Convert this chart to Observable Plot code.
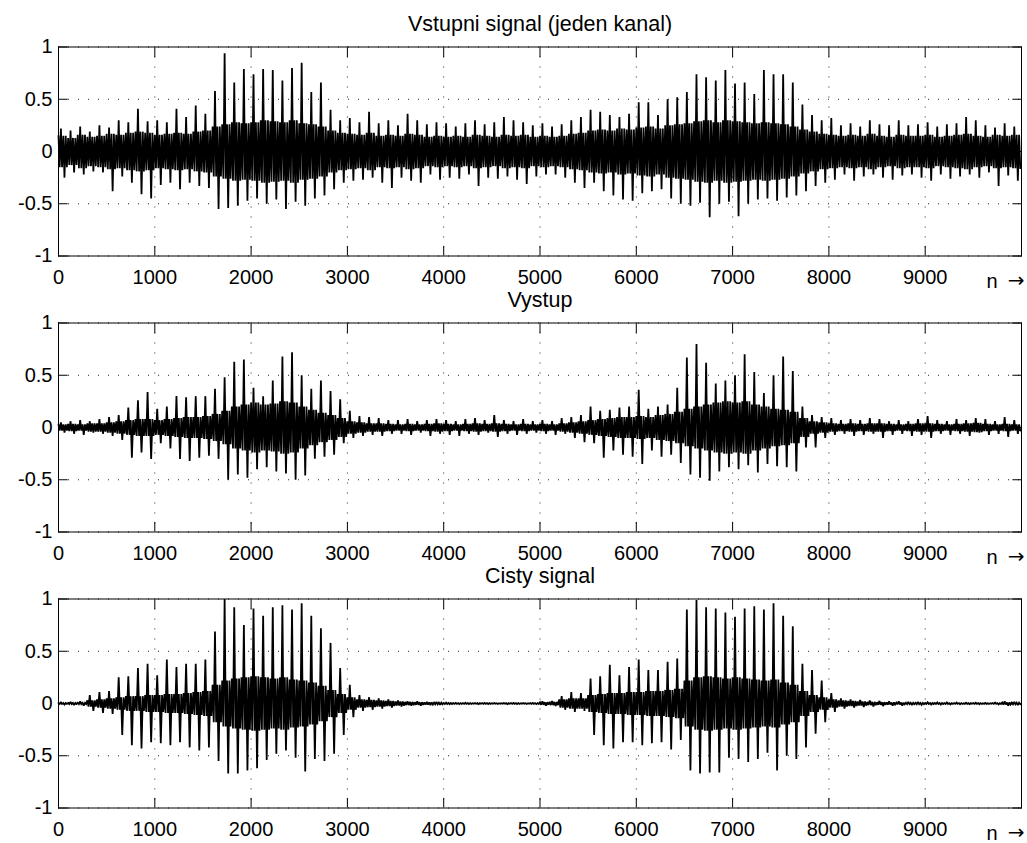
<!DOCTYPE html>
<html>
<head>
<meta charset="utf-8">
<script src="https://cdn.jsdelivr.net/npm/d3@7"></script>
<script src="https://cdn.jsdelivr.net/npm/@observablehq/plot@0.6"></script>
<style>
  html, body { margin: 0; padding: 0; background: #fff; overflow: hidden; }
  #wrap { position: relative; width: 1027px; height: 843px; font-family: "Liberation Sans", Arial, Helvetica, sans-serif; }
  #wrap svg { position: absolute; left: 0; }
</style>
</head>
<body>
<div id="wrap"></div>
<script>
// ---------- tick labels / categories ----------
const titles = ["Vstupni signal (jeden kanal)", "Vystup", "Cisty signal"];
const xLabelN = "n";
const xLabelArrow = "\u2192";
const xTicks = [0, 1000, 2000, 3000, 4000, 5000, 6000, 7000, 8000, 9000];
const yTicks = [-1, -0.5, 0, 0.5, 1];
const binSize = 100;      // samples per envelope bin

// ---------- panel 1: Vstupni signal (per-100-sample peak / trough / dense-band half-width) ----------
const inputHi = [
  0.22, 0.2, 0.24, 0.19, 0.25, 0.23, 0.3, 0.28, 0.41, 0.29,
  0.3, 0.28, 0.41, 0.33, 0.44, 0.36, 0.58, 0.94, 0.66, 0.79,
  0.74, 0.79, 0.78, 0.68, 0.8, 0.85, 0.57, 0.66, 0.4, 0.3,
  0.32, 0.28, 0.38, 0.27, 0.3, 0.25, 0.36, 0.3, 0.26, 0.28,
  0.27, 0.24, 0.27, 0.3, 0.26, 0.28, 0.33, 0.3, 0.28, 0.25,
  0.27, 0.24, 0.26, 0.3, 0.33, 0.4, 0.38, 0.35, 0.33, 0.36,
  0.47, 0.47, 0.35, 0.5, 0.52, 0.57, 0.74, 0.71, 0.68, 0.78,
  0.65, 0.66, 0.55, 0.78, 0.74, 0.74, 0.66, 0.45, 0.35, 0.3,
  0.32, 0.25, 0.27, 0.24, 0.3, 0.26, 0.25, 0.3, 0.25, 0.26,
  0.28, 0.24, 0.26, 0.27, 0.33, 0.3, 0.25, 0.23, 0.27, 0.24
];
const inputLo = [
  -0.25, -0.2, -0.22, -0.19, -0.2, -0.38, -0.24, -0.3, -0.41, -0.45,
  -0.32, -0.3, -0.36, -0.3, -0.33, -0.35, -0.55, -0.54, -0.52, -0.47,
  -0.45, -0.5, -0.46, -0.55, -0.48, -0.52, -0.45, -0.42, -0.36, -0.3,
  -0.28, -0.27, -0.25, -0.3, -0.35, -0.25, -0.28, -0.3, -0.22, -0.27,
  -0.25, -0.26, -0.22, -0.33, -0.25, -0.26, -0.24, -0.27, -0.31, -0.24,
  -0.22, -0.22, -0.25, -0.3, -0.35, -0.3, -0.38, -0.42, -0.46, -0.47,
  -0.4, -0.38, -0.36, -0.45, -0.5, -0.52, -0.49, -0.63, -0.5, -0.48,
  -0.62, -0.5, -0.46, -0.45, -0.47, -0.44, -0.42, -0.38, -0.33, -0.3,
  -0.27, -0.22, -0.28, -0.24, -0.22, -0.25, -0.27, -0.23, -0.22, -0.25,
  -0.28, -0.22, -0.26, -0.24, -0.22, -0.25, -0.2, -0.33, -0.23, -0.28
];
const inputCore = [
  0.15, 0.13, 0.16, 0.14, 0.15, 0.17, 0.16, 0.18, 0.19, 0.18,
  0.16, 0.17, 0.18, 0.17, 0.19, 0.2, 0.24, 0.26, 0.28, 0.27,
  0.28, 0.3, 0.29, 0.28, 0.3, 0.27, 0.26, 0.24, 0.2, 0.18,
  0.17, 0.16, 0.18, 0.15, 0.16, 0.15, 0.17, 0.16, 0.14, 0.15,
  0.14, 0.15, 0.14, 0.16, 0.15, 0.14, 0.16, 0.15, 0.16, 0.14,
  0.15, 0.14, 0.15, 0.17, 0.18, 0.2, 0.21, 0.2, 0.22, 0.21,
  0.23, 0.24, 0.22, 0.25, 0.26, 0.27, 0.29, 0.3, 0.28, 0.3,
  0.29, 0.28, 0.27, 0.28, 0.27, 0.26, 0.24, 0.21, 0.19, 0.17,
  0.16, 0.15, 0.16, 0.15, 0.17, 0.15, 0.14, 0.16, 0.15, 0.15,
  0.16, 0.14, 0.15, 0.16, 0.17, 0.15, 0.14, 0.16, 0.15, 0.16
];

// ---------- panel 2: Vystup ----------
const outputHi = [
  0.05, 0.06, 0.07, 0.06, 0.08, 0.1, 0.12, 0.19, 0.26, 0.34,
  0.18, 0.2, 0.3, 0.29, 0.3, 0.3, 0.37, 0.48, 0.63, 0.65,
  0.38, 0.3, 0.45, 0.68, 0.72, 0.5, 0.37, 0.45, 0.35, 0.27,
  0.16, 0.11, 0.1, 0.09, 0.07, 0.07, 0.08, 0.06, 0.07, 0.08,
  0.07, 0.06, 0.08, 0.09, 0.07, 0.12, 0.07, 0.06, 0.08, 0.06,
  0.07, 0.06, 0.09, 0.1, 0.12, 0.2, 0.16, 0.17, 0.19, 0.2,
  0.36, 0.18, 0.2, 0.22, 0.38, 0.67, 0.8, 0.62, 0.42, 0.45,
  0.5, 0.7, 0.53, 0.33, 0.5, 0.68, 0.54, 0.2, 0.12, 0.1,
  0.09, 0.07, 0.08, 0.07, 0.09, 0.08, 0.06, 0.07, 0.06, 0.08,
  0.11, 0.07, 0.06, 0.08, 0.07, 0.09, 0.08, 0.06, 0.1, 0.07
];
const outputLo = [
  -0.05, -0.06, -0.07, -0.05, -0.06, -0.08, -0.12, -0.29, -0.24, -0.3,
  -0.15, -0.2, -0.3, -0.32, -0.29, -0.27, -0.3, -0.5, -0.45, -0.48,
  -0.4, -0.38, -0.42, -0.44, -0.5, -0.46, -0.3, -0.28, -0.26, -0.15,
  -0.1, -0.08, -0.07, -0.08, -0.06, -0.06, -0.07, -0.05, -0.08, -0.06,
  -0.07, -0.08, -0.06, -0.07, -0.05, -0.09, -0.06, -0.07, -0.06, -0.05,
  -0.06, -0.07, -0.06, -0.1, -0.14, -0.15, -0.29, -0.22, -0.26, -0.28,
  -0.35, -0.22, -0.28, -0.26, -0.34, -0.45, -0.48, -0.51, -0.42, -0.38,
  -0.4, -0.36, -0.43, -0.35, -0.37, -0.38, -0.42, -0.19, -0.19, -0.1,
  -0.07, -0.06, -0.08, -0.07, -0.06, -0.1, -0.07, -0.06, -0.08, -0.07,
  -0.1, -0.06, -0.07, -0.06, -0.08, -0.05, -0.07, -0.06, -0.09, -0.06
];
const outputCore = [
  0.03, 0.035, 0.03, 0.04, 0.04, 0.05, 0.06, 0.07, 0.08, 0.08,
  0.07, 0.08, 0.09, 0.1, 0.1, 0.11, 0.13, 0.16, 0.2, 0.22,
  0.24, 0.22, 0.23, 0.25, 0.24, 0.2, 0.17, 0.14, 0.12, 0.09,
  0.06, 0.05, 0.04, 0.04, 0.035, 0.03, 0.035, 0.03, 0.035, 0.04,
  0.035, 0.03, 0.035, 0.04, 0.035, 0.04, 0.035, 0.03, 0.035, 0.03,
  0.035, 0.03, 0.04, 0.05, 0.06, 0.07, 0.08, 0.09, 0.1, 0.1,
  0.11, 0.1, 0.12, 0.13, 0.15, 0.18, 0.2, 0.22, 0.24, 0.25,
  0.24, 0.25, 0.22, 0.2, 0.18, 0.17, 0.15, 0.09, 0.06, 0.05,
  0.04, 0.035, 0.04, 0.035, 0.04, 0.04, 0.035, 0.03, 0.035, 0.04,
  0.04, 0.035, 0.03, 0.035, 0.04, 0.045, 0.035, 0.03, 0.035, 0.03
];

// ---------- panel 3: Cisty signal ----------
const cleanHi = [
  0.01, 0.015, 0.02, 0.08, 0.11, 0.12, 0.25, 0.26, 0.34, 0.38,
  0.27, 0.42, 0.35, 0.38, 0.38, 0.42, 0.69, 1.0, 0.92, 0.75,
  0.91, 0.84, 0.92, 0.94, 0.9, 0.96, 0.84, 0.72, 0.58, 0.34,
  0.18, 0.08, 0.06, 0.05, 0.04, 0.03, 0.02, 0.02, 0.015, 0.015,
  0.008, 0.006, 0.007, 0.005, 0.006, 0.005, 0.005, 0.006, 0.005, 0.006,
  0.02, 0.025, 0.07, 0.11, 0.1, 0.24, 0.26, 0.37, 0.27, 0.35,
  0.42, 0.32, 0.32, 0.4, 0.43, 0.9, 0.99, 0.92, 0.91, 0.87,
  0.83, 0.91, 0.93, 0.9, 0.96, 0.84, 0.74, 0.38, 0.32, 0.22,
  0.1, 0.05, 0.04, 0.035, 0.03, 0.025, 0.02, 0.02, 0.015, 0.015,
  0.012, 0.01, 0.01, 0.008, 0.007, 0.007, 0.006, 0.008, 0.02, 0.015
];
const cleanLo = [
  -0.01, -0.015, -0.02, -0.07, -0.09, -0.1, -0.3, -0.4, -0.43, -0.37,
  -0.38, -0.4, -0.37, -0.42, -0.45, -0.42, -0.55, -0.67, -0.67, -0.64,
  -0.62, -0.54, -0.48, -0.45, -0.52, -0.65, -0.53, -0.55, -0.48, -0.3,
  -0.13, -0.07, -0.06, -0.05, -0.04, -0.03, -0.02, -0.02, -0.015, -0.012,
  -0.007, -0.006, -0.005, -0.006, -0.005, -0.004, -0.006, -0.005, -0.005, -0.006,
  -0.02, -0.025, -0.06, -0.08, -0.07, -0.3, -0.4, -0.43, -0.37, -0.37,
  -0.4, -0.38, -0.37, -0.44, -0.35, -0.64, -0.67, -0.66, -0.66, -0.52,
  -0.53, -0.56, -0.53, -0.47, -0.64, -0.5, -0.53, -0.42, -0.29, -0.18,
  -0.08, -0.05, -0.04, -0.035, -0.03, -0.025, -0.02, -0.02, -0.015, -0.012,
  -0.01, -0.01, -0.008, -0.007, -0.006, -0.007, -0.005, -0.008, -0.02, -0.015
];
const cleanCore = [
  0.004, 0.005, 0.006, 0.03, 0.04, 0.05, 0.06, 0.07, 0.07, 0.08,
  0.08, 0.09, 0.09, 0.1, 0.11, 0.12, 0.18, 0.22, 0.24, 0.25,
  0.26, 0.25, 0.24, 0.25, 0.23, 0.22, 0.2, 0.17, 0.13, 0.09,
  0.06, 0.04, 0.035, 0.03, 0.025, 0.02, 0.015, 0.012, 0.01, 0.008,
  0.005, 0.004, 0.004, 0.003, 0.004, 0.003, 0.003, 0.004, 0.003, 0.004,
  0.012, 0.015, 0.04, 0.05, 0.05, 0.08, 0.09, 0.1, 0.1, 0.11,
  0.11, 0.12, 0.12, 0.13, 0.14, 0.22, 0.25, 0.26, 0.25, 0.24,
  0.25, 0.24, 0.23, 0.22, 0.23, 0.2, 0.18, 0.12, 0.08, 0.06,
  0.04, 0.03, 0.025, 0.02, 0.015, 0.012, 0.01, 0.008, 0.007, 0.006,
  0.005, 0.005, 0.004, 0.004, 0.003, 0.004, 0.003, 0.004, 0.01, 0.008
];

// ---------- build the trace table: per bin, dense band swings plus one up and one down peak ----------
function trace(hi, lo, core) {
  const pts = [];
  hi.forEach((h, i) => {
    const n = i * binSize, c = core[i];
    pts.push(
      {n: n, v: c}, {n: n + 12, v: -c}, {n: n + 25, v: h}, {n: n + 37, v: -c},
      {n: n + 50, v: c}, {n: n + 62, v: lo[i]}, {n: n + 75, v: c}, {n: n + 87, v: -c}
    );
  });
  return pts;
}
const panels = [
  {title: titles[0], sig: trace(inputHi, inputLo, inputCore)},
  {title: titles[1], sig: trace(outputHi, outputLo, outputCore)},
  {title: titles[2], sig: trace(cleanHi, cleanLo, cleanCore)}
];

const tops = [0, 276, 551.5];
const fmtY = d => String(d).replace("\u2212", "-");
const TL = 9.6; // inward tick length (px)
const wrap = document.getElementById("wrap");

panels.forEach((p, idx) => {
  const chart = Plot.plot({
    width: 1027,
    height: 300,
    marginTop: 46.5,
    marginBottom: 44.5,
    marginLeft: 58,
    marginRight: 6,
    style: {background: "transparent", overflow: "visible", fontFamily: "'Liberation Sans', Arial, Helvetica, sans-serif", fontSize: "20px", color: "#000"},
    x: {domain: [0, 10000]},
    y: {domain: [-1, 1]},
    marks: [
      Plot.gridX(xTicks, {stroke: "#222", strokeOpacity: 1, strokeDasharray: "1,9"}),
      Plot.gridY(yTicks, {stroke: "#222", strokeOpacity: 1, strokeDasharray: "1,9"}),
      Plot.line(p.sig, {x: "n", y: "v", stroke: "#000", strokeWidth: 1.8, strokeLinejoin: "miter", strokeMiterlimit: 2}),
      Plot.frame({stroke: "#000", strokeWidth: 1}),
      Plot.axisX(xTicks, {anchor: "bottom", tickSize: -TL, tickPadding: 13.5 + TL, tickFormat: d => String(d), label: null, fontSize: 20}),
      Plot.axisX(xTicks, {anchor: "top", tickSize: -TL, tickFormat: () => "", label: null}),
      Plot.axisY(yTicks, {anchor: "left", tickSize: -TL, tickPadding: 6 + TL, tickFormat: fmtY, label: null, fontSize: 20}),
      Plot.axisY(yTicks, {anchor: "right", tickSize: -TL, tickFormat: () => "", label: null}),
      Plot.text([p.title], {frameAnchor: "top", dy: -16, lineAnchor: "bottom", fontSize: 21.5, text: d => d}),
      Plot.text([xLabelN], {frameAnchor: "bottom-right", textAnchor: "end", lineAnchor: "bottom", dx: -24, dy: 32, fontSize: 20, text: d => d}),
      Plot.text([xLabelArrow], {frameAnchor: "bottom-right", textAnchor: "end", lineAnchor: "bottom", dx: 3, dy: 31, fontSize: 20, fontFamily: "DejaVu Sans", text: d => d})
    ]
  });
  chart.style.top = tops[idx] + "px";
  wrap.appendChild(chart);
});
</script>
</body>
</html>
